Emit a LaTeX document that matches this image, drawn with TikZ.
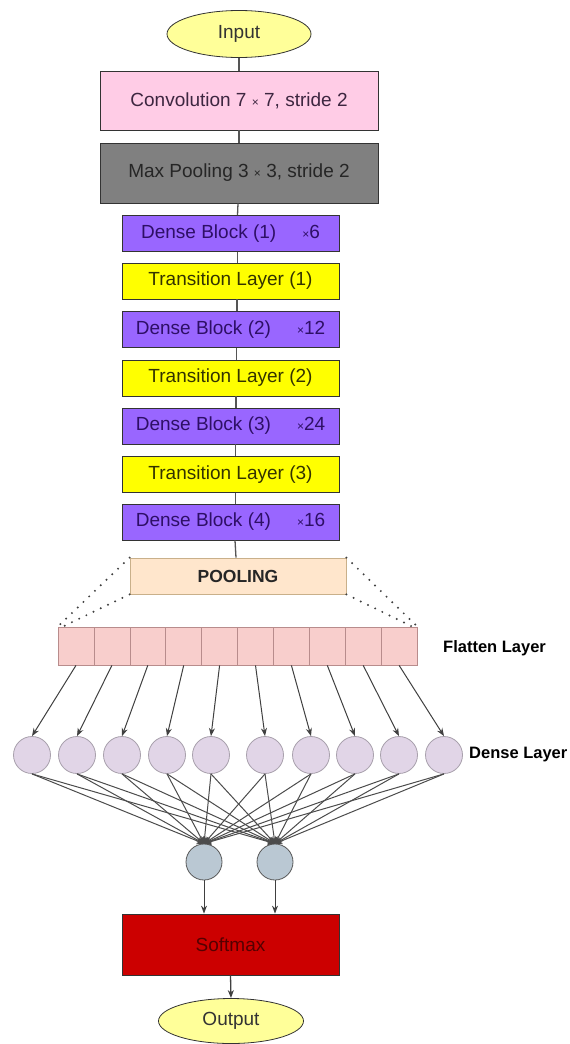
\documentclass[tikz,border=0pt]{standalone}
\usepackage{fontspec}
\setmainfont{Liberation Sans}
\usetikzlibrary{arrows.meta,shapes.geometric}
\definecolor{inyel}{HTML}{FFFF99}
\definecolor{convpink}{HTML}{FFCCE6}
\definecolor{convtxt}{HTML}{3D2640}
\definecolor{mpgray}{HTML}{808080}
\definecolor{dbpurple}{HTML}{9966FF}
\definecolor{dbtxt}{HTML}{2E0F66}
\definecolor{tlyel}{HTML}{FFFF00}
\definecolor{tltxt}{HTML}{333300}
\definecolor{poolfill}{HTML}{FFE6CC}
\definecolor{poolline}{HTML}{C9B08A}
\definecolor{flfill}{HTML}{F8CECC}
\definecolor{flline}{HTML}{B88C8C}
\definecolor{dnfill}{HTML}{E1D5E7}
\definecolor{dnline}{HTML}{A8A0AC}
\definecolor{opfill}{HTML}{BAC8D3}
\definecolor{smred}{HTML}{CC0000}
\definecolor{smtxt}{HTML}{550000}
\definecolor{conn}{HTML}{555555}
\newcommand{\bigtxt}{\fontsize{19}{22}\selectfont}
\newcommand{\smx}{{\fontsize{12}{12}\selectfont ×}}
\begin{document}
\begin{tikzpicture}[x=1pt,y=-1pt,
  ovalbox/.style={ellipse,draw=black!80,line width=0.8pt,fill=inyel,minimum width=144pt,minimum height=47pt,inner sep=0pt,font=\bigtxt,text=black!80},
  layerbox/.style={rectangle,draw=black!80,line width=0.8pt,inner sep=0pt,font=\bigtxt},
  dbbox/.style={layerbox,fill=dbpurple,text=dbtxt,minimum width=217pt,minimum height=36pt},
  tlbox/.style={layerbox,fill=tlyel,text=tltxt,minimum width=217pt,minimum height=36pt},
  colline/.style={draw=conn,line width=1.3pt},
  cell/.style={rectangle,draw=flline,fill=flfill,line width=0.7pt,minimum width=35.9pt,minimum height=38pt,inner sep=0pt},
  dnode/.style={circle,draw=dnline,fill=dnfill,line width=0.8pt,minimum size=37pt,inner sep=0pt},
  onode/.style={circle,draw=black!65,fill=opfill,line width=0.8pt,minimum size=36pt,inner sep=0pt},
  farrow/.style={draw=black!75,line width=1pt,-{Stealth[length=8pt,width=6pt]}},
  warrow/.style={draw=black!70,line width=1pt,-{Stealth[length=7pt,width=7pt]}},
  dotline/.style={draw=black!75,line width=2.2pt,line cap=round,dash pattern=on 0pt off 8pt},
  sidelabel/.style={font=\fontsize{16.5}{19}\selectfont\bfseries,anchor=west,inner sep=0pt}
]
\useasboundingbox (0,0) rectangle (570,1044);
\fill[white] (0,0) rectangle (570,1044);

% main column
\node[ovalbox] (input) at (239,34) {Input};
\node[layerbox,fill=convpink,text=convtxt,minimum width=278pt,minimum height=59pt] (conv) at (239,100.5) {Convolution 7 \smx\ 7, stride 2};
\node[layerbox,fill=mpgray,text=black!85,minimum width=278pt,minimum height=60pt] (mp) at (239,173) {Max Pooling 3 \smx\ 3, stride 2};
\node[dbbox] (db1) at (230.5,233.5) {Dense Block (1)\hspace{26pt}\smx6};
\node[tlbox] (tl1) at (230.5,281) {Transition Layer (1)};
\node[dbbox] (db2) at (230.5,329.5) {Dense Block (2)\hspace{26pt}\smx12};
\node[tlbox] (tl2) at (230.5,378) {Transition Layer (2)};
\node[dbbox] (db3) at (230.5,426) {Dense Block (3)\hspace{26pt}\smx24};
\node[tlbox] (tl3) at (230.5,474.5) {Transition Layer (3)};
\node[dbbox] (db4) at (230.5,522) {Dense Block (4)\hspace{26pt}\smx16};

\draw[colline] (input.south) -- (conv.north);
\draw[colline] (conv.south) -- (mp.north);
\draw[colline] ([xshift=-1pt]mp.south) -- ([xshift=7pt]db1.north);
\draw[colline] ([xshift=7pt]db1.south) -- ([xshift=7pt]tl1.north);
\draw[colline] ([xshift=6.5pt]tl1.south) -- ([xshift=6.5pt]db2.north);
\draw[colline] ([xshift=6pt]db2.south) -- ([xshift=6pt]tl2.north);
\draw[colline] ([xshift=5.5pt]tl2.south) -- ([xshift=5.5pt]db3.north);
\draw[colline] ([xshift=5pt]db3.south) -- ([xshift=5pt]tl3.north);
\draw[colline] ([xshift=5pt]tl3.south) -- ([xshift=5pt]db4.north);

% pooling
\node[rectangle,draw=poolline,fill=poolfill,line width=0.8pt,minimum width=216pt,minimum height=36pt,inner sep=0pt,font=\fontsize{17.5}{20}\selectfont\bfseries,text=black!85] (pool) at (238,576) {POOLING};
\draw[colline] ([xshift=4.5pt]db4.south) -- ([xshift=-2pt]pool.north);

% flatten layer
\foreach \i in {0,...,9}{
  \node[cell] (f\i) at ({76+35.9*\i},646) {};
}
\node[sidelabel] (fl) at (443,648) {Flatten Layer};

% dotted projection
\draw[dotline] (pool.north west) -- (f0.north west);
\draw[dotline] (pool.south west) -- ([xshift=5pt]f0.north west);
\draw[dotline] (pool.north east) -- (f9.north east);
\draw[dotline] (pool.south east) -- ([xshift=-5pt]f9.north east);

% dense layer
\foreach \i/\x in {0/32,1/77,2/122,3/167,4/211,5/265,6/311,7/355,8/399,9/444}{
  \node[dnode] (d\i) at (\x,755) {};
}
\node[sidelabel] (dl) at (469,755) {Dense Layer};
\foreach \i in {0,...,9}{
  \draw[farrow] (f\i.south) -- (d\i.north);
}

% output neurons
\node[onode] (o1) at (204,862) {};
\node[onode] (o2) at (275,862) {};
\foreach \i in {0,...,9}{
  \draw[warrow] (d\i.south) -- (o1.north);
  \draw[warrow] (d\i.south) -- (o2.north);
}

% softmax and output
\node[layerbox,fill=smred,text=smtxt,minimum width=217pt,minimum height=61pt] (sm) at (230.5,944.5) {Softmax};
\draw[farrow] (o1.south) -- (o1.south |- sm.north);
\draw[farrow] (o2.south) -- (o2.south |- sm.north);
\node[ovalbox,minimum width=145pt,minimum height=45pt] (out) at (231,1021) {Output};
\draw[farrow,line width=1.3pt] (sm.south) -- (out.north);
\end{tikzpicture}
\end{document}
